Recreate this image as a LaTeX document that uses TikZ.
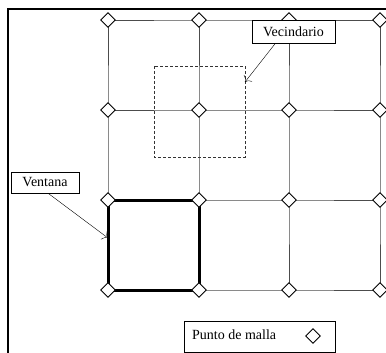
\documentclass[tikz,border=0pt]{standalone}
\usepackage{fontspec}
\setmainfont{Liberation Serif}
\usetikzlibrary{shapes.geometric,arrows.meta}

\tikzstyle{punto}=[diamond,draw,line width=0.9pt,fill=white,inner sep=0pt,minimum width=15pt,minimum height=15pt]
\tikzstyle{etiqueta}=[rectangle,draw,fill=white,inner sep=0pt,font=\fontsize{14}{16}\selectfont]
\tikzstyle{malla}=[draw=black!70,line width=0.8pt]

\begin{document}
\begin{tikzpicture}[x=1pt,y=-1pt]
	\useasboundingbox (0,0) rectangle (386,353);
	% marco
	\draw[line width=2pt] (8,353) -- (8,9) -- (386,9);
	
	% puntos de la malla
	\foreach \i/\x in {0/108,1/199,2/289,3/380}
		\foreach \j/\y in {0/20,1/110,2/200,3/290}
			\coordinate (c-\i-\j) at (\x,\y);
	
	\foreach \j in {0,1,2,3} {
		\draw[malla] (c-0-\j) -- (c-1-\j) -- (c-2-\j) -- (c-3-\j);
		\draw[malla] (c-\j-0) -- (c-\j-1) -- (c-\j-2) -- (c-\j-3);
	}
	
	% ventana
	\draw[line width=3pt] (c-0-2) -- (c-1-2) -- (c-1-3) -- (c-0-3) -- cycle;
	
	\foreach \i in {0,1,2,3}
		\foreach \j in {0,1,2,3}
			\node[punto] (p-\i-\j) at (c-\i-\j) {};
	
	% vecindario
	\draw[black!80,dash pattern=on 3pt off 2pt] (154,66) rectangle (245,157);
	\coordinate (vec-pt) at (245,82);
	\coordinate (ven-pt) at (108,238);
	
	\node[etiqueta,minimum width=83pt,minimum height=23pt] (vec) at (293.5,31.5) {Vecindario};
	\node[etiqueta,minimum width=68pt,minimum height=21pt] (ven) at (45,182.5) {Ventana};
	\draw[-{To[length=5pt]}] ([xshift=-18pt]vec.south) -- (vec-pt);
	\draw[-{To[length=5pt]}] ([xshift=3pt]ven.south) -- (ven-pt);
	
	% leyenda
	\node[etiqueta,minimum width=151pt,minimum height=31pt] (ley) at (259.5,336.5) {};
	\node[font=\fontsize{14}{16}\selectfont,anchor=west,inner sep=0pt] (ley-txt) at (192,335) {Punto de malla};
	\node[punto] (ley-pt) at (313,336) {};
\end{tikzpicture}
\end{document}
